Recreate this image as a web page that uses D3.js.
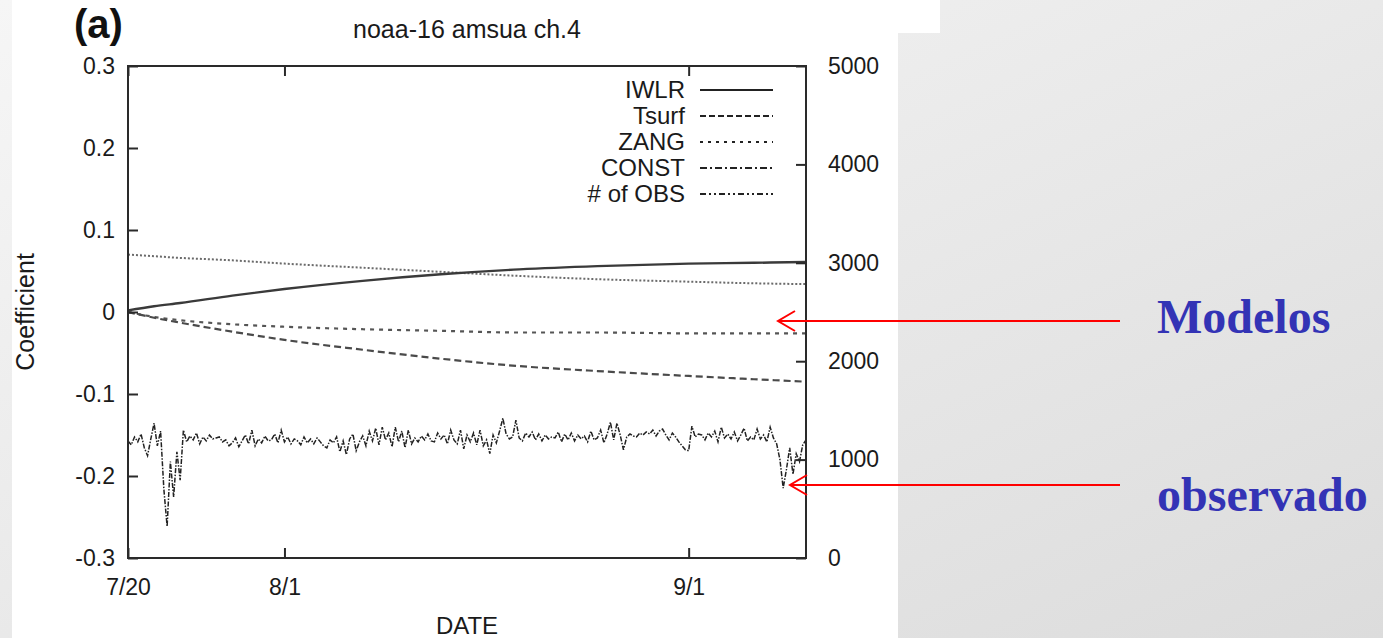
<!DOCTYPE html>
<html><head><meta charset="utf-8">
<script src="https://cdn.jsdelivr.net/npm/d3@7"></script>
<style>html,body{margin:0;padding:0;overflow:hidden;background:#fff}</style>
</head><body>
<svg id="c" width="1383" height="638"></svg>
<script>
// ---- data ----
const dateTickDays = [0, 12, 43];
const dateTickLabels = ["7/20", "8/1", "9/1"];
const coefTicks = [-0.3, -0.2, -0.1, 0, 0.1, 0.2, 0.3];
const coefTickLabels = ["-0.3", "-0.2", "-0.1", "0", "0.1", "0.2", "0.3"];
const obsTicks = [0, 1000, 2000, 3000, 4000, 5000];
const seriesNames = ["IWLR", "Tsurf", "ZANG", "CONST", "# of OBS"];

const curveDays = [0, 2, 4, 8, 12, 18, 24, 30, 36, 43, 48, 52];
const iwlr  = [0.002, 0.007, 0.011, 0.020, 0.028, 0.038, 0.046, 0.052, 0.056, 0.059, 0.060, 0.061];
const tsurf = [0.000, -0.007, -0.013, -0.024, -0.034, -0.046, -0.057, -0.066, -0.072, -0.078, -0.082, -0.085];
const zang  = [0.000, -0.006, -0.010, -0.015, -0.018, -0.021, -0.023, -0.025, -0.025, -0.026, -0.026, -0.026];
const cnst  = [0.070, 0.068, 0.066, 0.063, 0.059, 0.054, 0.049, 0.044, 0.040, 0.037, 0.035, 0.034];

// # of OBS, 4 values per day starting 7/20
const obsCount = [
 1190,1150,1230,1180, 1260,1120,1040,1210, 1370,1140,1290,700, 320,980,620,1080,
 790,1300,1180,1240, 1200,1270,1160,1230, 1190,1250,1210,1220, 1230,1180,1200,1140,
 1170,1220,1130,1190, 1250,1160,1300,1140, 1210,1170,1240,1190, 1200,1260,1170,1300,
 1180,1230,1160,1210, 1190,1150,1230,1170, 1210,1160,1220,1180, 1140,1120,1200,1170,
 1230,1080,1190,1050, 1210,1260,1090,1180, 1240,1140,1290,1190, 1320,1150,1330,1200,
 1270,1130,1330,1180, 1290,1120,1300,1160, 1220,1180,1240,1200, 1260,1190,1180,1270,
 1210,1250,1160,1300, 1200,1160,1300,1110, 1250,1180,1270,1150, 1300,1140,1200,1060,
 1250,1170,1290,1420, 1260,1210,1230,1400, 1220,1190,1270,1230, 1280,1200,1260,1190,
 1250,1210,1230,1220, 1280,1180,1260,1200, 1270,1190,1250,1210, 1240,1180,1290,1200,
 1220,1300,1170,1260, 1380,1200,1370,1250, 1100,1230,1260,1240, 1230,1270,1250,1280,
 1260,1300,1240,1290, 1310,1250,1200,1270, 1230,1180,1140,1100, 1090,1340,1230,1260,
 1250,1200,1270,1230, 1290,1180,1330,1220, 1260,1210,1280,1190, 1250,1320,1190,1230,
 1200,1310,1210,1250, 1180,1330,1220,1160, 1000,710,900,1120, 850,1060,980,1150,
 1200
];
const obsDays = obsCount.map((v, i) => i / 4);

// ---- drawing ----
const svg = d3.select("#c");
const font = "'Liberation Sans', Arial, Helvetica, sans-serif";

const defs = svg.append("defs");
const grad = defs.append("linearGradient").attr("id", "bg").attr("x1", "0").attr("y1", "0").attr("x2", "1").attr("y2", "1");
grad.append("stop").attr("offset", "0").attr("stop-color", "#f6f6f6");
grad.append("stop").attr("offset", "1").attr("stop-color", "#dcdcdc");
svg.append("rect").attr("width", 1383).attr("height", 638).attr("fill", "url(#bg)");
svg.append("rect").attr("x", 12).attr("y", 0).attr("width", 886).attr("height", 638).attr("fill", "#fff");
svg.append("rect").attr("x", 12).attr("y", 0).attr("width", 928).attr("height", 33).attr("fill", "#fff");

const L = 128, R = 806, T = 66, B = 558;
const x = d3.scaleLinear().domain([0, 52]).range([L, R]);
const y = d3.scaleLinear().domain([-0.3, 0.3]).range([B, T]);
const y2 = d3.scaleLinear().domain([0, 5000]).range([B, T]);

const g = svg.append("g");

// lines
const lineC = d3.line().x((d, i) => x(curveDays[i])).y(d => y(d)).curve(d3.curveMonotoneX);
const styles = [
  {data: cnst, color: "#6a6a6a", w: 2, dash: "2,2"},
  {data: zang, color: "#555", w: 2.2, dash: "4,5"},
  {data: tsurf, color: "#4a4a4a", w: 2.2, dash: "7,4"},
  {data: iwlr, color: "#3a3a3a", w: 2.4, dash: null}
];
styles.forEach(s => {
  g.append("path").attr("d", lineC(s.data)).attr("fill", "none")
    .attr("stroke", s.color).attr("stroke-width", s.w)
    .attr("stroke-dasharray", s.dash);
});
const lineO = d3.line().x((d, i) => x(obsDays[i])).y(d => y2(d));
g.append("path").attr("d", lineO(obsCount)).attr("fill", "none")
  .attr("stroke", "#222").attr("stroke-width", 1.5)
  .attr("stroke-dasharray", "5,1.5,1.5,1.5");

// frame
g.append("rect").attr("x", L).attr("y", T).attr("width", R - L).attr("height", B - T)
  .attr("fill", "none").attr("stroke", "#2a2a2a").attr("stroke-width", 2);

const tk = 10;
const axL = d3.axisLeft(y).tickValues(coefTicks).tickFormat((d, i) => coefTickLabels[i]).tickSize(-tk).tickPadding(13);
const axR = d3.axisRight(y2).tickValues(obsTicks).tickFormat(d3.format("d")).tickSize(-tk).tickPadding(22);
const axB = d3.axisBottom(x).tickValues(dateTickDays).tickFormat((d, i) => dateTickLabels[i]).tickSize(-tk).tickPadding(21);
const axT = d3.axisTop(x).tickValues(dateTickDays).tickFormat("").tickSize(-tk);

function style(sel) {
  sel.select(".domain").remove();
  sel.selectAll(".tick line").attr("stroke", "#2a2a2a").attr("stroke-width", 2);
  sel.selectAll(".tick text").attr("fill", "#1a1a1a").style("font-family", font).style("font-size", "23px");
}
g.append("g").attr("transform", `translate(${L},0)`).call(axL).call(style);
g.append("g").attr("transform", `translate(${R},0)`).call(axR).call(style);
g.append("g").attr("transform", `translate(0,${B})`).call(axB).call(style);
g.append("g").attr("transform", `translate(0,${T})`).call(axT).call(style);

// titles
g.append("text").attr("x", 467).attr("y", 38).attr("text-anchor", "middle")
  .style("font-family", font).style("font-size", "25px").attr("fill", "#1a1a1a").text("noaa-16 amsua ch.4");
g.append("text").attr("x", 74).attr("y", 38)
  .style("font-family", font).style("font-size", "40px").style("font-weight", "bold").attr("fill", "#111").text("(a)");
g.append("text").attr("x", 467).attr("y", 634).attr("text-anchor", "middle")
  .style("font-family", font).style("font-size", "24px").attr("fill", "#1a1a1a").text("DATE");
g.append("text").attr("transform", `translate(34,${(T + B) / 2}) rotate(-90)`).attr("text-anchor", "middle")
  .style("font-family", font).style("font-size", "25px").attr("fill", "#1a1a1a").text("Coefficient");

// legend
const legY = [90, 116, 142, 168, 194];
const legDash = [null, "6,3", "3,5", "7,3,2,3", "6,3,2,3,2,3"];
seriesNames.forEach((n, i) => {
  g.append("text").attr("x", 685).attr("y", legY[i] + 8).attr("text-anchor", "end")
    .style("font-family", font).style("font-size", "24px").attr("fill", "#1a1a1a").text(n);
  g.append("line").attr("x1", 700).attr("x2", 773).attr("y1", legY[i]).attr("y2", legY[i])
    .attr("stroke", "#222").attr("stroke-width", 1.8).attr("stroke-dasharray", legDash[i]);
});

// annotations
const notes = [
  {label: "Modelos", ly: 321, tip: 778, ty: 333},
  {label: "observado", ly: 485, tip: 790, ty: 511}
];
notes.forEach(n => {
  svg.append("line").attr("x1", 1120).attr("x2", n.tip).attr("y1", n.ly).attr("y2", n.ly)
    .attr("stroke", "#f00").attr("stroke-width", 2);
  svg.append("path").attr("d", `M${n.tip + 17},${n.ly - 10} L${n.tip},${n.ly} L${n.tip + 17},${n.ly + 10}`)
    .attr("fill", "none").attr("stroke", "#f00").attr("stroke-width", 2);
  svg.append("text").attr("x", 1157).attr("y", n.ty)
    .style("font-family", "'Liberation Serif', 'Times New Roman', serif").style("font-weight", "bold")
    .style("font-size", "48px").attr("fill", "#3333b5").text(n.label);
});
</script>
</body></html>
